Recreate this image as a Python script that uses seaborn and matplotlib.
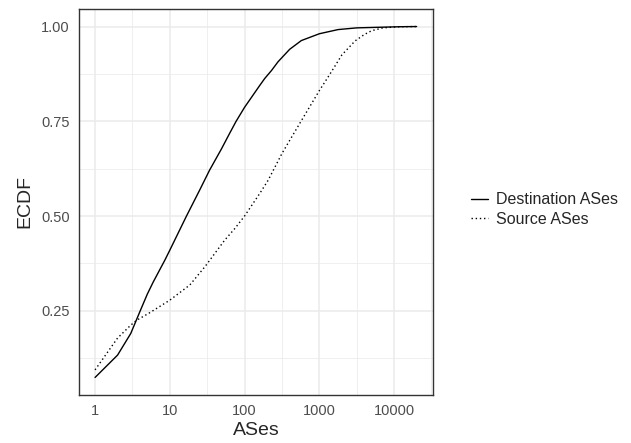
import numpy as np
import pandas as pd
import matplotlib
matplotlib.use("Agg")
import matplotlib.pyplot as plt
import seaborn as sns
from matplotlib.lines import Line2D

# values
dest_x = [1, 2, 3, 4, 5, 6, 8.6, 10, 16.7, 25, 34, 49, 63, 77, 100, 160,
          186, 229, 280, 401, 574, 1000, 1780, 3160, 11800, 20000]
dest_y = [0.074, 0.133, 0.19, 0.249, 0.294, 0.326, 0.384, 0.41, 0.50, 0.568,
          0.621, 0.677, 0.718, 0.75, 0.787, 0.845, 0.863, 0.884, 0.907, 0.940,
          0.963, 0.981, 0.992, 0.9965, 0.9995, 1.0]

src_x = [1, 2, 3, 3.6, 5.4, 10, 18.5, 29.4, 54, 74, 100, 160, 206, 316, 545,
         1000, 1370, 2000, 3000, 4000, 5000, 7100, 11800, 20000]
src_y = [0.094, 0.178, 0.212, 0.225, 0.245, 0.278, 0.318, 0.366, 0.436, 0.467,
         0.50, 0.560, 0.594, 0.665, 0.744, 0.831, 0.873, 0.925, 0.962, 0.979,
         0.989, 0.9965, 0.9995, 1.0]

groups = ["Destination ASes", "Source ASes"]
y_ticks = [0.25, 0.50, 0.75, 1.00]
x_ticks = [1, 10, 100, 1000, 10000]

df = pd.concat([
    pd.DataFrame({"ASes": dest_x, "ECDF": dest_y, "group": groups[0]}),
    pd.DataFrame({"ASes": src_x, "ECDF": src_y, "group": groups[1]}),
])

sns.set_style("white")
plt.rcParams["font.family"] = ["Liberation Sans", "DejaVu Sans"]

fig = plt.figure(figsize=(6.31, 4.43), dpi=100)
ax = fig.add_axes([79 / 631, 1 - 395 / 443, 353.7 / 631, 386 / 443])

sns.lineplot(data=df, x="ASes", y="ECDF", style="group", color="black",
             dashes={groups[0]: "", groups[1]: (1, 2)}, linewidth=1.0,
             legend=False, ax=ax, sort=False)

ax.set_xscale("log")
lo, hi = np.log10(min(dest_x)), np.log10(max(dest_x))
pad = (hi - lo) * 0.05
ax.set_xlim(10 ** (lo - pad), 10 ** (hi + pad))
ymin = min(dest_y + src_y)
ypad = (1.0 - ymin) * 0.05
ax.set_ylim(ymin - ypad, 1.0 + ypad)

ax.set_xticks(x_ticks)
ax.set_xticklabels([str(t) for t in x_ticks])
ax.set_xticks([10 ** (k + 0.5) for k in range(5)], minor=True)
ax.xaxis.set_minor_formatter(matplotlib.ticker.NullFormatter())
ax.set_yticks(y_ticks)
ax.set_yticklabels(["%.2f" % t for t in y_ticks])
ax.set_yticks([0.125, 0.375, 0.625, 0.875], minor=True)

ax.grid(which="major", color="#EBEBEB", linewidth=1.1)
ax.grid(which="minor", color="#EBEBEB", linewidth=0.55)
ax.set_axisbelow(True)
for s in ax.spines.values():
    s.set_color("#333333")
    s.set_linewidth(1.0)

ax.tick_params(which="major", axis="both", length=3.6, width=0.9, color="#333333",
               labelsize=10.5, labelcolor="#4D4D4D", pad=2.9)
ax.tick_params(which="minor", length=0)
ax.set_xlabel("ASes", fontsize=14, labelpad=3)
ax.set_ylabel("ECDF", fontsize=14, labelpad=6)

handles = [Line2D([], [], color="black", lw=1.0),
           Line2D([], [], color="black", lw=1.0, dashes=(1, 2))]
fig.legend(handles, groups, loc="center left", bbox_to_anchor=(471 / 631, 1 - 209.5 / 443),
           frameon=False, fontsize=11.5, handlelength=1.05, handletextpad=0.5,
           labelspacing=0.3, borderaxespad=0, borderpad=0)

fig.savefig("out.png", dpi=100)
